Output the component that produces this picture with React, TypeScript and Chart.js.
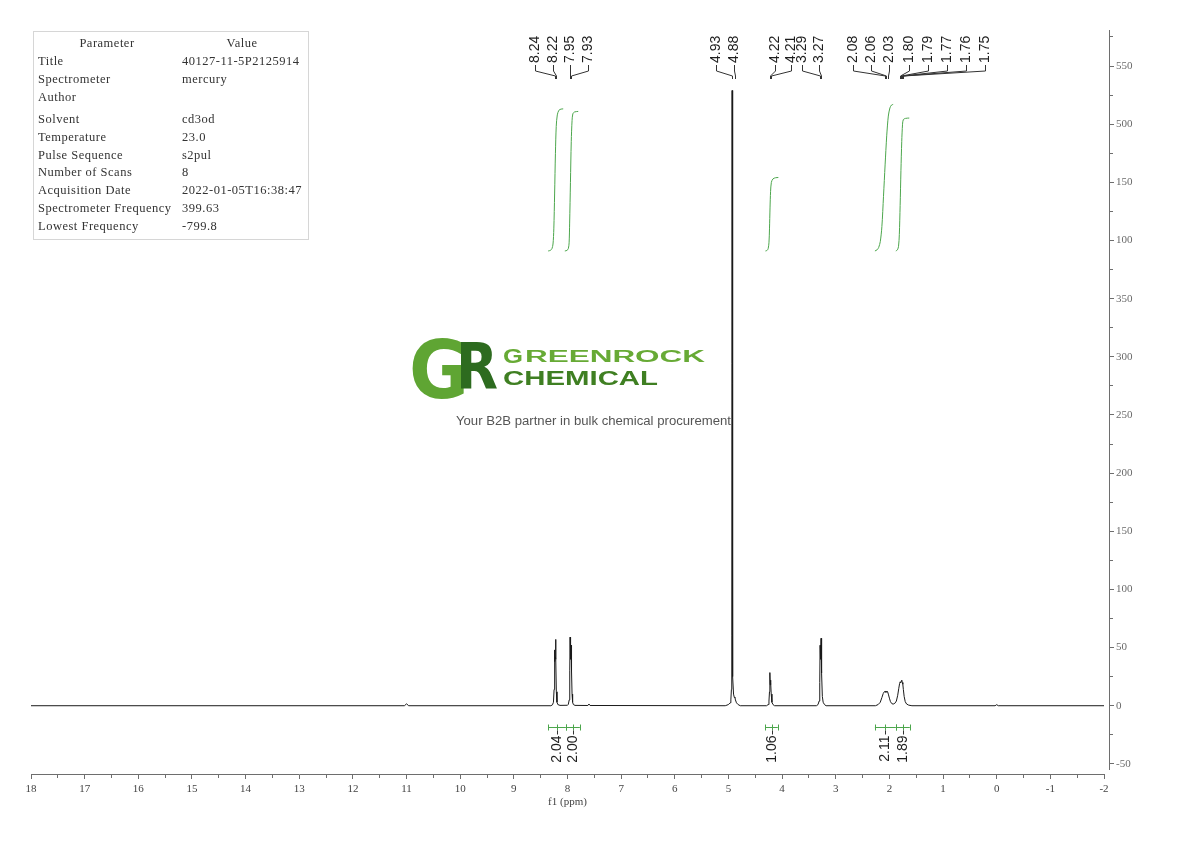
import React, { useEffect, useRef } from 'react';
import { Chart, registerables } from 'chart.js';

Chart.register(...registerables);

// ---------- spectrum (ppm, intensity) ----------
const spectrumPpm = [
  18, 11.04, 11.0, 10.96,
  8.31, 8.28, 8.262, 8.25, 8.244, 8.24, 8.234, 8.228, 8.222, 8.216, 8.208, 8.196, 8.18, 8.14,
  8.0, 7.985, 7.968, 7.958, 7.952, 7.946, 7.94, 7.932, 7.925, 7.915, 7.905, 7.89, 7.86,
  7.62, 7.6, 7.58,
  5.06, 5.0, 4.97, 4.955, 4.945, 4.938, 4.932, 4.926, 4.918, 4.905, 4.89, 4.88, 4.87, 4.85, 4.82, 4.78,
  4.29, 4.26, 4.245, 4.235, 4.228, 4.222, 4.216, 4.21, 4.203, 4.19, 4.17, 4.14,
  3.36, 3.33, 3.31, 3.298, 3.292, 3.286, 3.28, 3.274, 3.268, 3.26, 3.25, 3.235, 3.21, 3.18,
  2.26, 2.21, 2.17, 2.14, 2.115, 2.095, 2.08, 2.07, 2.06, 2.05, 2.035, 2.02, 2.0, 1.98, 1.955, 1.93,
  1.9, 1.87, 1.845, 1.825, 1.81, 1.8, 1.79, 1.78, 1.77, 1.76, 1.75, 1.74, 1.725, 1.705, 1.68, 1.64, 1.58,
  0.03, 0.0, -0.03, -2,
];
const spectrumIntensity = [
  0, 0, 1.6, 0,
  0, 0.8, 3, 14, 40, 48, 38, 42, 57, 40, 12, 3, 1, 0.3,
  0.4, 1.2, 5, 30, 59, 45, 40, 52, 30, 10, 3, 1, 0.3,
  0.2, 1.5, 0.2,
  0, 1, 2.5, 5, 14, 60, 529, 120, 25, 10, 7, 7.5, 5, 2.5, 1, 0,
  0, 1, 4, 12, 28.5, 18, 22, 20, 10, 3, 1, 0,
  0, 1, 4, 20, 52, 44, 40, 58, 45, 28, 8, 3, 1, 0,
  0, 1, 3, 7, 10.5, 12, 12.4, 11.6, 12.3, 11.7, 12.2, 10, 6.5, 3.5, 1.8, 1.4,
  2, 4, 9, 15, 19, 20.5, 19.8, 21, 22, 20, 18.5, 14, 8, 3.5, 1.5, 0.5, 0,
  0, 0.9, 0, 0,
];

// ---------- integrals ----------
const integralFrom = [8.36, 8.03, 4.31, 2.27, 1.88];
const integralTo = [8.03, 7.77, 4.08, 1.88, 1.62];
const integralValues = ['2.04', '2.00', '1.06', '2.11', '1.89'];
const integralCurvePpm = [
  [8.36, 8.32, 8.29, 8.27, 8.255, 8.24, 8.225, 8.21, 8.19, 8.16, 8.12, 8.08],
  [8.05, 8.01, 7.985, 7.97, 7.96, 7.945, 7.93, 7.915, 7.9, 7.87, 7.8],
  [4.31, 4.28, 4.26, 4.245, 4.235, 4.225, 4.215, 4.2, 4.17, 4.12, 4.07],
  [2.27, 2.23, 2.2, 2.17, 2.14, 2.11, 2.08, 2.05, 2.02, 1.99, 1.96, 1.93],
  [1.88, 1.85, 1.83, 1.815, 1.8, 1.785, 1.77, 1.755, 1.74, 1.7, 1.63],
];
const integralCurveValue = [
  [391, 391.5, 393, 397, 410, 440, 475, 498, 508, 512, 513, 513.2],
  [391, 391.5, 393, 398, 415, 450, 485, 503, 509, 510.5, 511],
  [391, 391.5, 393, 398, 410, 428, 442, 450, 453, 454, 454.2],
  [391, 392, 394, 399, 412, 438, 465, 490, 507, 514, 516.5, 517],
  [391, 392, 395, 405, 430, 460, 485, 500, 504, 505, 505.3],
];

// ---------- peak labels ----------
const peakPpm = [8.24, 8.22, 7.95, 7.93, 4.93, 4.88, 4.22, 4.21, 3.29, 3.27, 2.08, 2.06, 2.03, 1.8, 1.79, 1.77, 1.76, 1.75];
const peakLabels = ['8.24', '8.22', '7.95', '7.93', '4.93', '4.88', '4.22', '4.21', '3.29', '3.27', '2.08', '2.06', '2.03', '1.80', '1.79', '1.77', '1.76', '1.75'];
const peakLabelAnchorPpm = [8.606, 8.27, 7.953, 7.618, 5.232, 4.897, 4.132, 3.834, 3.629, 3.312, 2.678, 2.343, 2.007, 1.635, 1.28, 0.926, 0.572, 0.218];

// ---------- axes ----------
const xMajorTicks = [18, 17, 16, 15, 14, 13, 12, 11, 10, 9, 8, 7, 6, 5, 4, 3, 2, 1, 0, -1, -2];
const xTickLabels = ['18', '17', '16', '15', '14', '13', '12', '11', '10', '9', '8', '7', '6', '5', '4', '3', '2', '1', '0', '-1', '-2'];
const xMinorTicks = [17.5, 16.5, 15.5, 14.5, 13.5, 12.5, 11.5, 10.5, 9.5, 8.5, 7.5, 6.5, 5.5, 4.5, 3.5, 2.5, 1.5, 0.5, -0.5, -1.5];
const yMajorTicks = [-50, 0, 50, 100, 150, 200, 250, 300, 350, 400, 450, 500, 550];
const yTickLabels = ['-50', '0', '50', '100', '150', '200', '250', '300', '350', '100', '150', '500', '550'];
const yMinorTicks = [-25, 25, 75, 125, 175, 225, 275, 325, 375, 425, 475, 525, 575];

// ---------- parameter table ----------
const paramNames = ['Title', 'Spectrometer', 'Author', 'Solvent', 'Temperature', 'Pulse Sequence', 'Number of Scans', 'Acquisition Date', 'Spectrometer Frequency', 'Lowest Frequency'];
const paramValues = ['40127-11-5P2125914', 'mercury', '', 'cd3od', '23.0', 's2pul', '8', '2022-01-05T16:38:47', '399.63', '-799.8'];

const near = (a: number, b: number) => Math.abs(a - b) < 1e-6;
const xLabel = (v: number) => {
  const i = xMajorTicks.findIndex((t) => near(t, v));
  return i >= 0 ? xTickLabels[i] : '';
};
const yLabel = (v: number) => {
  const i = yMajorTicks.findIndex((t) => near(t, v));
  return i >= 0 ? yTickLabels[i] : '';
};

const AXIS = '#6e6e6e';
const GREEN = '#4ca64c';

const annotationPlugin = {
  id: 'nmrAnnotations',
  afterDatasetsDraw(chart: any) {
    const { ctx, chartArea, scales } = chart;
    const xs = scales.x;
    const ys = scales.y;
    ctx.save();
    // peak labels with connectors
    const base = chartArea.top + 33;
    ctx.font = '14px "Liberation Sans", Arial, sans-serif';
    ctx.strokeStyle = '#333';
    ctx.fillStyle = '#1e1e1e';
    ctx.lineWidth = 1;
    peakPpm.forEach((p, i) => {
      const px = Math.round(xs.getPixelForValue(p)) + 0.5;
      const lx = Math.round(xs.getPixelForValue(peakLabelAnchorPpm[i])) + 0.5;
      ctx.beginPath();
      ctx.moveTo(lx, base + 2);
      ctx.lineTo(lx, base + 8);
      ctx.lineTo(px, base + 13);
      ctx.lineTo(px, base + 16);
      ctx.stroke();
      ctx.save();
      ctx.translate(lx, base);
      ctx.rotate(-Math.PI / 2);
      ctx.textAlign = 'left';
      ctx.textBaseline = 'middle';
      ctx.fillText(peakLabels[i], 0, 0);
      ctx.restore();
    });
    // integral brackets and values
    const zeroY = ys.getPixelForValue(0);
    const by = Math.round(zeroY + 21) + 0.5;
    integralFrom.forEach((f, i) => {
      const x1 = xs.getPixelForValue(f);
      const x2 = xs.getPixelForValue(integralTo[i]);
      const cx = Math.round((x1 + x2) / 2) + 0.5;
      ctx.strokeStyle = GREEN;
      ctx.beginPath();
      ctx.moveTo(x1, by);
      ctx.lineTo(x2, by);
      ctx.moveTo(Math.round(x1) + 0.5, by - 3);
      ctx.lineTo(Math.round(x1) + 0.5, by + 3);
      ctx.moveTo(Math.round(x2) + 0.5, by - 3);
      ctx.lineTo(Math.round(x2) + 0.5, by + 3);
      ctx.moveTo(cx, by - 3);
      ctx.lineTo(cx, by + 3);
      ctx.stroke();
      ctx.strokeStyle = '#333';
      ctx.beginPath();
      ctx.moveTo(cx, by + 3);
      ctx.lineTo(cx, by + 7);
      ctx.stroke();
      ctx.save();
      ctx.translate(cx, by + 8);
      ctx.rotate(-Math.PI / 2);
      ctx.textAlign = 'right';
      ctx.textBaseline = 'middle';
      ctx.fillStyle = '#1e1e1e';
      ctx.fillText(integralValues[i], 0, 0);
      ctx.restore();
    });
    ctx.restore();
  },
};

export default function App() {
  const canvasRef = useRef<HTMLCanvasElement>(null);

  useEffect(() => {
    const canvas = canvasRef.current;
    if (!canvas) return;
    const spectrum = spectrumPpm.map((x, i) => ({ x, y: spectrumIntensity[i] }));
    const integralSets = integralCurvePpm.map((arr, k) => ({
      data: arr.map((x, i) => ({ x, y: integralCurveValue[k][i] })),
      borderColor: GREEN,
      borderWidth: 1,
      pointRadius: 0,
      tension: 0.3,
      fill: false,
      xAxisID: 'x',
      yAxisID: 'y',
    }));
    const minorDash = (major: number[], len: number) => (c: any) =>
      c && c.tick && !major.some((t) => near(t, c.tick.value)) ? [len, 80] : [];

    const chart = new Chart(canvas, {
      type: 'line',
      data: {
        datasets: [
          {
            data: spectrum,
            borderColor: '#1a1a1a',
            borderWidth: 1,
            pointRadius: 0,
            tension: 0,
            fill: false,
            xAxisID: 'x',
            yAxisID: 'y',
          } as any,
          ...(integralSets as any[]),
        ],
      },
      options: {
        animation: false,
        responsive: false,
        maintainAspectRatio: false,
        devicePixelRatio: 1,
        events: [],
        layout: { padding: { left: 31, top: 30, right: 36, bottom: 31 } },
        plugins: { legend: { display: false }, tooltip: { enabled: false }, title: { display: false } },
        elements: { point: { radius: 0 } },
        scales: {
          xGap: {
            type: 'linear',
            position: 'bottom',
            weight: 0,
            display: true,
            grid: { display: false },
            border: { display: false },
            ticks: { display: false },
            afterFit: (s: any) => { s.height = 5; },
          } as any,
          x: {
            type: 'linear',
            position: 'bottom',
            weight: 1,
            min: -2,
            max: 18,
            reverse: true,
            afterBuildTicks: (s: any) => {
              s.ticks = [...xMajorTicks, ...xMinorTicks].sort((a, b) => a - b).map((v) => ({ value: v }));
            },
            afterFit: (s: any) => { s.height = 36; },
            ticks: {
              autoSkip: false,
              maxRotation: 0,
              padding: 4,
              color: '#444',
              font: { family: '"Liberation Serif", "Times New Roman", serif', size: 11 },
              callback: (v: any) => xLabel(Number(v)),
            },
            grid: {
              display: true,
              drawOnChartArea: false,
              drawTicks: true,
              tickLength: 5,
              tickColor: AXIS,
              tickWidth: 1,
              tickBorderDash: minorDash(xMajorTicks, 3),
            },
            border: { display: true, color: AXIS, width: 1 },
            title: {
              display: true,
              text: 'f1 (ppm)',
              color: '#444',
              font: { family: '"Liberation Serif", "Times New Roman", serif', size: 11 },
              padding: { top: 0, bottom: 1 },
            },
          } as any,
          yGap: {
            type: 'linear',
            position: 'right',
            weight: 0,
            display: true,
            grid: { display: false },
            border: { display: false },
            ticks: { display: false },
            afterFit: (s: any) => { s.width = 5; },
          } as any,
          y: {
            type: 'linear',
            position: 'right',
            weight: 1,
            min: -54.4,
            max: 581,
            afterBuildTicks: (s: any) => {
              s.ticks = [...yMajorTicks, ...yMinorTicks].sort((a, b) => a - b).map((v) => ({ value: v }));
            },
            afterFit: (s: any) => { s.width = 45; },
            ticks: {
              autoSkip: false,
              padding: 2,
              color: '#6a6a6a',
              font: { family: '"Liberation Serif", "Times New Roman", serif', size: 11 },
              callback: (v: any) => yLabel(Number(v)),
            },
            grid: {
              display: true,
              drawOnChartArea: false,
              drawTicks: true,
              tickLength: 5,
              tickColor: AXIS,
              tickWidth: 1,
              tickBorderDash: minorDash(yMajorTicks, 3),
            },
            border: { display: true, color: AXIS, width: 1 },
          } as any,
        },
      } as any,
      plugins: [annotationPlugin],
    });
    return () => chart.destroy();
  }, []);

  const rowY = (i: number) => 61 + 17.9 * i + (i >= 3 ? 4 : 0);
  const tableFont = '"Liberation Serif", "Times New Roman", serif';

  return (
    <div style={{ position: 'absolute', left: 0, top: 0, width: 1190, height: 841, background: '#ffffff', overflow: 'hidden' }}>
      <canvas ref={canvasRef} width={1190} height={841} style={{ position: 'absolute', left: 0, top: 0, width: 1190, height: 841 }} />
      <svg width={1190} height={841} style={{ position: 'absolute', left: 0, top: 0, pointerEvents: 'none' }}>
        {/* parameter table */}
        <rect x={33.5} y={31.5} width={275} height={208} fill="#ffffff" stroke="#d6d6d6" strokeWidth={1} />
        <g fontFamily={tableFont} fontSize={12.5} fill="#333" letterSpacing={0.5}>
          <text x={107} y={47} textAnchor="middle">Parameter</text>
          <text x={242} y={47} textAnchor="middle">Value</text>
          {paramNames.map((n, i) => (
            <text key={'n' + i} x={38} y={rowY(i) + 4}>{n}</text>
          ))}
          {paramValues.map((v, i) => (
            <text key={'v' + i} x={182} y={rowY(i) + 4}>{v}</text>
          ))}
        </g>
        {/* watermark */}
        <g fontFamily='"DejaVu Sans", "Liberation Sans", sans-serif' fontWeight="bold">
          <text x={409} y={398} fontSize={80} fill="#5fa533" textLength={60} lengthAdjust="spacingAndGlyphs">G</text>
          <text x={456} y={389} fontSize={64} fill="#2d6b1f" textLength={42} lengthAdjust="spacingAndGlyphs">R</text>
        </g>
        <g fontFamily='"Liberation Sans", Arial, sans-serif' fontWeight="bold">
          <text x={503} y={363} fontSize={21} fill="#67aa35" textLength={20} lengthAdjust="spacingAndGlyphs">G</text>
          <text x={525} y={362} fontSize={16} fill="#67aa35" textLength={180} lengthAdjust="spacingAndGlyphs">REENROCK</text>
          <text x={503} y={385} fontSize={21} fill="#3f7f22" textLength={155} lengthAdjust="spacingAndGlyphs">CHEMICAL</text>
        </g>
        <text x={456} y={425} fontFamily='"Liberation Sans", Arial, sans-serif' fontSize={12.5} fill="#555" textLength={275} lengthAdjust="spacingAndGlyphs">
          Your B2B partner in bulk chemical procurement
        </text>
      </svg>
    </div>
  );
}
